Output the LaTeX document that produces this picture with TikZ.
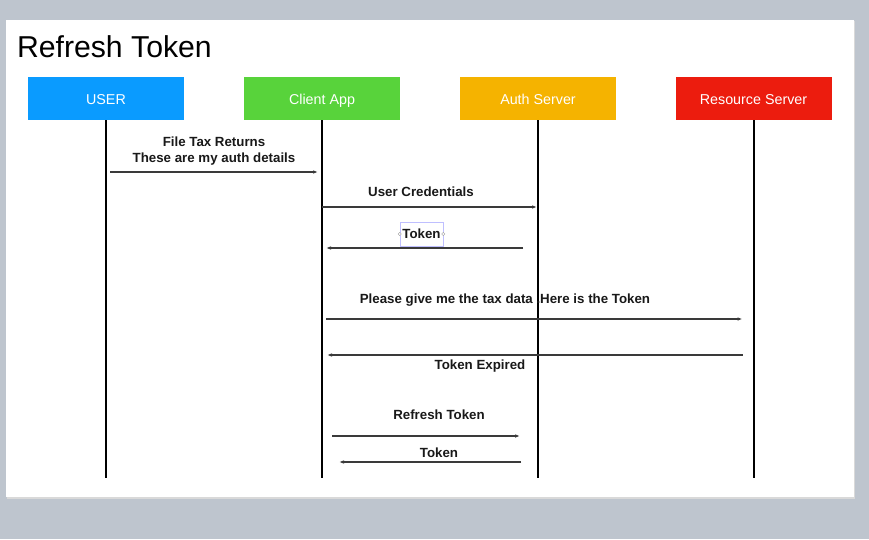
\documentclass[tikz,border=0pt]{standalone}
\usepackage{fontspec}
\setmainfont{Liberation Sans}
\usepackage{tikz}
\usetikzlibrary{arrows.meta, positioning, calc}

\definecolor{bggray}{HTML}{BEC5CE}
\definecolor{userblue}{HTML}{0A9BFF}
\definecolor{clientgreen}{HTML}{58D33B}
\definecolor{authorange}{HTML}{F5B300}
\definecolor{resred}{HTML}{EC1C0E}
\definecolor{msggray}{HTML}{3A3A3A}

\begin{document}
\begin{tikzpicture}[x=1pt, y=-1pt,
      actor/.style={rectangle, minimum width=156pt, minimum height=43pt, inner sep=0pt,
        text=white, text height=12.5pt, text depth=0pt, font=\fontsize{14.3}{17}\selectfont},
      life/.style={line width=2pt, black},
      msg/.style={-{Latex[length=5pt, width=3.6pt]}, line width=1.1pt, msggray},
      lbl/.style={font=\fontsize{13.3}{16}\bfseries\selectfont, text=black!90, inner sep=1pt, align=center}]

      \useasboundingbox (0,0) rectangle (869,539);
      \fill[bggray] (0,0) rectangle (869,539);
      \fill[black!15] (7,21) rectangle (855,499);
      \fill[white] (6,20) rectangle (854,497);

      \node[anchor=base west, font=\fontsize{30.2}{35}\selectfont] (title) at (13.5,57) {Refresh Token};

      \node[actor, fill=userblue] (user) at (106,98.5) {USER};
      \node[actor, fill=clientgreen] (client) at (322,98.5) {Client App};
      \node[actor, fill=authorange] (auth) at (538,98.5) {Auth Server};
      \node[actor, fill=resred] (res) at (753.5,98.5) {Resource Server};

      % Lifelines
      \foreach \n in {user, client, auth, res} {
        \draw[life] (\n.south) -- (\n.south |- 0,478);
      }

      % Arrows
      \draw[msg] ([xshift=4]user.south |- 0,172) -- ([xshift=-4]client.south |- 0,172);
      \draw[msg] (client.south |- 0,207) -- ([xshift=-1]auth.south |- 0,207);
      \draw[msg] ([xshift=-15]auth.south |- 0,248) -- ([xshift=4]client.south |- 0,248);
      \draw[msg] ([xshift=4]client.south |- 0,319) -- ([xshift=-11]res.south |- 0,319);
      \draw[msg] ([xshift=-11]res.south |- 0,355) -- ([xshift=5]client.south |- 0,355);
      \draw[msg] ([xshift=10]client.south |- 0,436) -- ([xshift=-18]auth.south |- 0,436);
      \draw[msg] ([xshift=-17]auth.south |- 0,462) -- ([xshift=17]client.south |- 0,462);

      % Labels
      \node[lbl] (filetax) at (214,151) {File Tax Returns\\These are my auth details};
      \node[lbl] (cred) at (421,192) {User Credentials};
      \node[lbl, draw=blue!25, line width=0.5pt, minimum width=43pt, minimum height=24pt] (token) at (421.5,234) {Token};
      \foreach \s in {west, east} {
        \draw[black!40, fill=white, line width=0.4pt] (token.\s) circle (1.6pt);
      }
      \node[lbl] (please) at (505,300) {Please give me the tax data .Here is the Token};
      \node[lbl] (expired) at (480,366) {Token Expired};
      \node[lbl] (refresh) at (439,415) {Refresh Token};
      \node[lbl] (newtoken) at (439,453) {Token};
    \end{tikzpicture}
\end{document}
